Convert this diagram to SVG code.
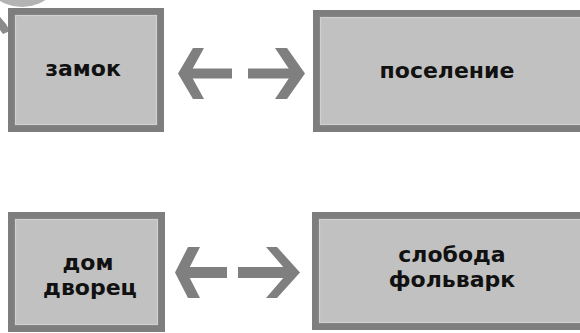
<svg xmlns="http://www.w3.org/2000/svg" width="580" height="333" viewBox="0 0 580 333">
<style>
.box{fill:#c1c1c1;stroke:#7e7e7e;stroke-width:7}
.inner{fill:none;stroke:#d0d0d0;stroke-width:1.2}
.lbl{font-family:"DejaVu Sans",Verdana,sans-serif;font-weight:bold;font-size:22px;fill:#111;text-anchor:middle}
.shaft{stroke:#7f7f7f;fill:none}
.head{fill:#7f7f7f}
</style>
<rect width="580" height="333" fill="#ffffff"/>
<g id="artifact">
<circle cx="22" cy="-36" r="43" fill="#b4b4b4"/>
<polygon points="0,17 6,24 10,31 3,34 0,30" fill="#8a8a8a"/>
</g>
<g id="node-zamok">
<rect class="box" x="11.5" y="11.5" width="149" height="117"/>
<rect class="inner" x="15.5" y="15.5" width="141" height="109"/>
<text class="lbl" x="83" y="76">замок</text>
</g>
<g id="node-poselenie">
<rect class="box" x="316.5" y="13.5" width="270" height="115"/>
<rect class="inner" x="320.5" y="17.5" width="262" height="107"/>
<text class="lbl" x="447" y="78">поселение</text>
</g>
<g id="node-dom">
<rect class="box" x="11.5" y="215.5" width="150" height="113"/>
<rect class="inner" x="15.5" y="219.5" width="142" height="105"/>
<text class="lbl" x="88" y="270">дом</text>
<text class="lbl" x="90" y="295">дворец</text>
</g>
<g id="node-sloboda">
<rect class="box" x="315.5" y="215.5" width="270" height="111"/>
<rect class="inner" x="319.5" y="219.5" width="262" height="103"/>
<text class="lbl" x="452" y="262">слобода</text>
<text class="lbl" x="452" y="287">фольварк</text>
</g>
<g id="connectors">
<line class="shaft" stroke-width="10" x1="188" y1="73.5" x2="232" y2="73.5"/>
<polygon class="head" points="178,73.5 193,48 204,48 190,73.5 204,99 193,99"/>
<line class="shaft" stroke-width="10" x1="248" y1="73.5" x2="296" y2="73.5"/>
<polygon class="head" points="305,73.5 287,48 275,48 292,73.5 275,99 287,99"/>
<line class="shaft" stroke-width="11" x1="186" y1="272.5" x2="227" y2="272.5"/>
<polygon class="head" points="175,272.5 188,247 200,247 187,272.5 200,298 188,298"/>
<line class="shaft" stroke-width="11" x1="238" y1="272.5" x2="292" y2="272.5"/>
<polygon class="head" points="300,272.5 277,247 266,247 288,272.5 266,298 277,298"/>
</g>
</svg>
